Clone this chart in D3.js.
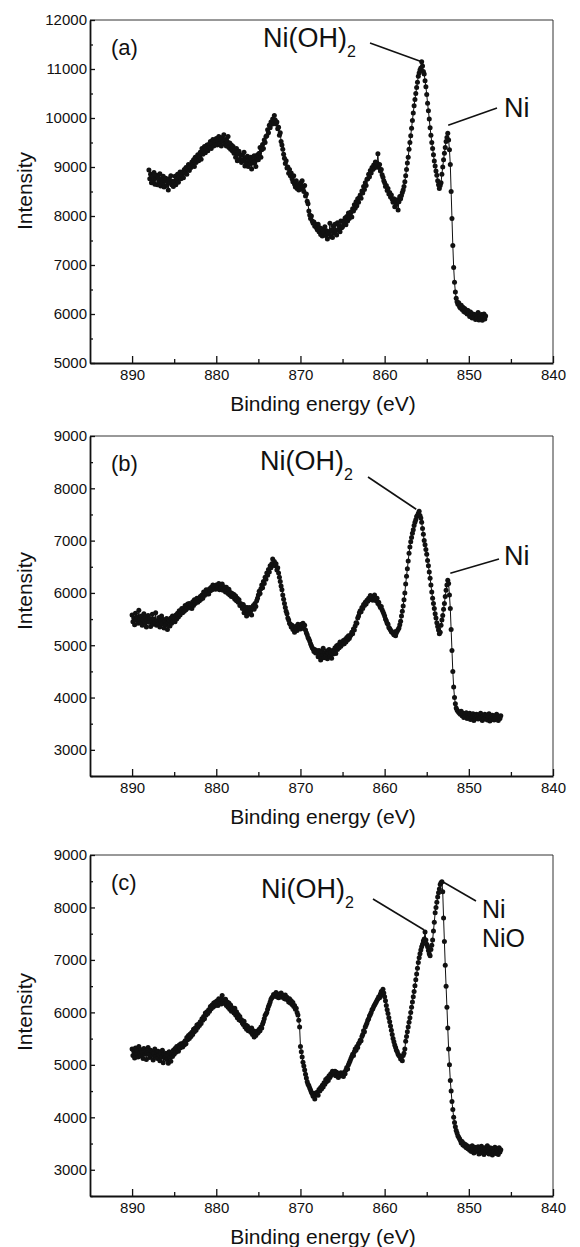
<!DOCTYPE html>
<html>
<head>
<meta charset="utf-8">
<script src="https://cdn.jsdelivr.net/npm/d3@7"></script>
<style>
  body { margin: 0; background: #fff; }
  svg { display: block; }
</style>
</head>
<body>
<svg id="fig" width="580" height="1247"></svg>
<script>
// ---- Ni 2p XPS spectra, intensity in counts, 0.1 eV energy grid ----
const energyStep = 0.1;
const energyStartA = 888.0;
const energyStartB = 890.0;
const energyStartC = 890.0;

// (a) rows of 10 points, each row starting at 888, 887, ... eV
const intensityA = [
  8940, 8760, 8850, 8680, 8810, 8720, 8890, 8650, 8770, 8830,
  8640, 8790, 8700, 8860, 8610, 8750, 8680, 8810, 8590, 8720,
  8770, 8620, 8700, 8530, 8760, 8680, 8820, 8640, 8710, 8600,
  8700, 8810, 8640, 8760, 8850, 8690, 8800, 8900, 8760, 8840,
  8900, 8780, 8950, 8870, 8990, 8850, 8960, 9050, 8930, 9010,
  8990, 9100, 9040, 9150, 9010, 9200, 9090, 9160, 9250, 9130,
  9220, 9300, 9160, 9380, 9260, 9330, 9420, 9290, 9360, 9450,
  9330, 9460, 9400, 9520, 9380, 9480, 9560, 9430, 9510, 9460,
  9580, 9450, 9530, 9620, 9480, 9560, 9430, 9600, 9520, 9660,
  9470, 9560, 9430, 9520, 9620, 9400, 9490, 9360, 9450, 9330,
  9420, 9280, 9350, 9200, 9380, 9130, 9270, 9320, 9160, 9240,
  9090, 9250, 9140, 9300, 9020, 9180, 9080, 9220, 9010, 9150,
  9060, 9200, 8960, 9140, 9080, 9230, 9100, 9010, 9170, 9250,
  9150, 9280, 9400, 9200, 9350, 9460, 9380, 9550, 9500, 9620,
  9640, 9760, 9700, 9850, 9800, 9920, 9870, 9980, 9900, 10050,
  9960, 9880, 9920, 9780, 9810, 9650, 9700, 9520, 9450, 9360,
  9260, 9180, 9070, 9130, 8980, 9000, 8870, 8950, 8820, 8880,
  8760, 8700, 8820, 8650, 8590, 8720, 8560, 8640, 8530, 8600,
  8680, 8550, 8720, 8590, 8500, 8620, 8410, 8450, 8300, 8250,
  8100, 8020, 7950, 8000, 7900, 7850, 7880, 7790, 7830, 7760,
  7720, 7830, 7680, 7760, 7620, 7740, 7590, 7700, 7650, 7780,
  7600, 7700, 7530, 7680, 7640, 7850, 7580, 7710, 7560, 7790,
  7650, 7830, 7700, 7610, 7860, 7720, 7800, 7680, 7900, 7760,
  7780, 7900, 7850, 7960, 7820, 7990, 7900, 8060, 7950, 8010,
  8080, 7980, 8150, 8100, 8230, 8160, 8290, 8210, 8350, 8280,
  8380, 8430, 8360, 8510, 8470, 8600, 8540, 8680, 8620, 8750,
  8760, 8850, 8800, 8930, 8880, 8990, 8950, 9040, 8980, 9100,
  9020, 9080, 9270, 8990, 9050, 8920, 8950, 8840, 8790, 8720,
  8680, 8600, 8620, 8520, 8560, 8450, 8480, 8390, 8430, 8340,
  8280, 8350, 8190, 8310, 8240, 8330, 8120, 8290, 8400, 8350,
  8420, 8480, 8530, 8600, 8700, 8820, 8950, 9080, 9200, 9360,
  9500, 9640, 9790, 9950, 10100, 10250, 10380, 10500, 10620, 10730,
  10850, 10920, 10980, 11020, 11150, 11060, 10950, 10900, 10760, 10640,
  10480, 10300, 10150, 9980, 9800, 9650, 9500, 9380, 9250, 9120,
  9020, 8920, 8830, 8720, 8640, 8560, 8620, 8680, 8850, 9000,
  9150, 9280, 9400, 9520, 9600, 9690, 9550, 9350, 9050, 8500,
  7950, 7400, 6950, 6650, 6450, 6320, 6250, 6200, 6230, 6150,
  6120, 6180, 6090, 6140, 6050, 6110, 6030, 6080, 6000, 6070,
  6010, 5950, 6040, 5980, 5920, 6000, 5940, 5990, 5890, 5970,
  5920, 6030, 5880, 5960, 5910, 5990, 5870, 5940, 6000, 5900,
  5960
];

// (b) rows of 10 points, each row starting at 890, 889, ... eV
const intensityB = [
  5580, 5450, 5520, 5390, 5610, 5480, 5540, 5420, 5670, 5500,
  5430, 5560, 5380, 5490, 5600, 5420, 5530, 5350, 5480, 5570,
  5440, 5510, 5360, 5470, 5590, 5400, 5500, 5430, 5620, 5380,
  5470, 5400, 5530, 5350, 5460, 5560, 5410, 5490, 5330, 5450,
  5390, 5510, 5300, 5440, 5480, 5370, 5520, 5420, 5560, 5460,
  5520, 5450, 5580, 5500, 5610, 5540, 5660, 5580, 5640, 5700,
  5620, 5700, 5650, 5760, 5680, 5730, 5790, 5710, 5800, 5740,
  5780, 5700, 5830, 5760, 5870, 5800, 5840, 5900, 5820, 5880,
  5850, 5930, 5880, 5960, 5900, 6020, 5950, 5990, 6060, 5980,
  6030, 5980, 6080, 6040, 6110, 6060, 6150, 6090, 6130, 6070,
  6150, 6080, 6120, 6180, 6060, 6140, 6100, 6170, 6050, 6120,
  6080, 6020, 6110, 6040, 5990, 6070, 5960, 6010, 5930, 5990,
  5920, 5970, 5880, 5940, 5850, 5900, 5820, 5870, 5760, 5800,
  5760, 5700, 5780, 5620, 5730, 5680, 5560, 5720, 5650, 5600,
  5720, 5660, 5580, 5700, 5760, 5690, 5800, 5740, 5850, 5900,
  5960, 6030, 5990, 6080, 6150, 6100, 6220, 6180, 6300, 6260,
  6380, 6340, 6450, 6400, 6520, 6480, 6560, 6650, 6530, 6600,
  6520, 6560, 6440, 6480, 6380, 6300, 6220, 6130, 6060, 5960,
  5880, 5800, 5720, 5650, 5600, 5520, 5480, 5420, 5400, 5350,
  5380, 5300, 5340, 5250, 5360, 5320, 5280, 5400, 5330, 5370,
  5310, 5400, 5350, 5420, 5320, 5380, 5290, 5240, 5200, 5150,
  5120, 5080, 5030, 4990, 4950, 4930, 4880, 4920, 4850, 4900,
  4860, 4780, 4900, 4820, 4720, 4880, 4800, 4940, 4760, 4850,
  4800, 4890, 4740, 4850, 4920, 4780, 4870, 4750, 4900, 4830,
  4880, 4950, 4840, 4990, 4920, 5010, 4950, 5060, 4980, 5040,
  5020, 5090, 5030, 5110, 5060, 5150, 5100, 5180, 5130, 5170,
  5200, 5250, 5220, 5310, 5290, 5370, 5430, 5420, 5520, 5560,
  5620, 5660, 5640, 5720, 5700, 5780, 5760, 5820, 5790, 5860,
  5840, 5900, 5870, 5950, 5880, 5930, 5860, 5920, 5960, 5880,
  5850, 5900, 5800, 5820, 5760, 5720, 5740, 5680, 5640, 5600,
  5560, 5500, 5470, 5420, 5400, 5340, 5320, 5290, 5260, 5250,
  5230, 5200, 5260, 5180, 5240, 5270, 5300, 5330, 5390, 5460,
  5560, 5650, 5750, 5870, 6000, 6170, 6320, 6460, 6610, 6760,
  6880, 6980, 7060, 7140, 7210, 7290, 7350, 7400, 7460, 7480,
  7520, 7560, 7480, 7430, 7350, 7230, 7120, 7000, 6920, 6830,
  6740, 6620, 6520, 6400, 6280, 6150, 6020, 5900, 5800, 5700,
  5600, 5520, 5430, 5360, 5290, 5220, 5250, 5380, 5480, 5570,
  5690, 5800, 5930, 6050, 6150, 6240, 6180, 5960, 5700, 5300,
  4900, 4500, 4200, 4000, 3880, 3800, 3760, 3740, 3720, 3700,
  3680, 3740, 3650, 3700, 3620, 3690, 3640, 3710, 3600, 3660,
  3630, 3700, 3580, 3660, 3620, 3690, 3560, 3640, 3600, 3680,
  3640, 3590, 3670, 3610, 3700, 3620, 3560, 3650, 3590, 3680,
  3600, 3660, 3570, 3640, 3690, 3550, 3620, 3580, 3660, 3610,
  3570, 3650, 3600, 3680, 3620, 3560, 3640, 3600, 3650
];

// (c) rows of 10 points, each row starting at 890, 889, ... eV
const intensityC = [
  5300, 5180, 5260, 5130, 5320, 5210, 5280, 5150, 5350, 5220,
  5170, 5290, 5240, 5120, 5310, 5200, 5260, 5100, 5230, 5330,
  5200, 5140, 5280, 5180, 5250, 5090, 5220, 5300, 5160, 5240,
  5120, 5260, 5190, 5080, 5230, 5150, 5280, 5040, 5200, 5130,
  5220, 5100, 5180, 5030, 5250, 5140, 5070, 5210, 5160, 5280,
  5200, 5310, 5240, 5350, 5280, 5260, 5380, 5320, 5400, 5350,
  5340, 5420, 5380, 5460, 5400, 5520, 5480, 5560, 5500, 5590,
  5540, 5620, 5580, 5680, 5630, 5700, 5660, 5760, 5710, 5780,
  5750, 5820, 5790, 5880, 5850, 5920, 5880, 5990, 5950, 6010,
  5980, 6050, 6020, 6110, 6070, 6140, 6100, 6180, 6120, 6200,
  6150, 6220, 6130, 6260, 6180, 6250, 6160, 6320, 6200, 6240,
  6170, 6250, 6130, 6200, 6100, 6180, 6060, 6140, 6020, 6090,
  6050, 5990, 6080, 5950, 6010, 5900, 5960, 5860, 5920, 5840,
  5860, 5800, 5770, 5830, 5720, 5760, 5680, 5740, 5650, 5700,
  5680, 5620, 5700, 5580, 5650, 5530, 5620, 5560, 5640, 5600,
  5620, 5680, 5650, 5720, 5700, 5780, 5820, 5880, 5940, 5970,
  6000, 6060, 6110, 6150, 6200, 6250, 6280, 6300, 6340, 6310,
  6330, 6380, 6300, 6350, 6280, 6340, 6310, 6370, 6290, 6330,
  6300, 6260, 6330, 6250, 6290, 6240, 6200, 6260, 6180, 6220,
  6150, 6190, 6110, 6130, 6060, 6080, 6000, 5950, 5850, 5720,
  5350, 5250, 5150, 5050, 4980, 4900, 4820, 4750, 4680, 4630,
  4600, 4560, 4520, 4480, 4450, 4400, 4460, 4350, 4420, 4470,
  4480, 4420, 4530, 4500, 4570, 4540, 4610, 4580, 4660, 4630,
  4720, 4680, 4750, 4700, 4790, 4760, 4830, 4800, 4880, 4850,
  4840, 4880, 4790, 4860, 4820, 4760, 4830, 4790, 4850, 4810,
  4820, 4780, 4860, 4830, 4900, 4950, 4920, 5000, 5040, 5080,
  5120, 5160, 5200, 5180, 5250, 5300, 5280, 5350, 5330, 5400,
  5420, 5470, 5460, 5540, 5580, 5650, 5630, 5720, 5760, 5800,
  5850, 5880, 5930, 5960, 6000, 6050, 6070, 6110, 6140, 6170,
  6200, 6230, 6260, 6300, 6280, 6350, 6400, 6330, 6440, 6370,
  6300, 6220, 6130, 6050, 5980, 5900, 5820, 5740, 5660, 5580,
  5500, 5440, 5380, 5330, 5280, 5250, 5200, 5180, 5160, 5110,
  5150, 5080, 5180, 5220, 5300, 5450, 5540, 5630, 5720, 5810,
  5900, 6000, 6100, 6200, 6300, 6400, 6510, 6620, 6730, 6840,
  6950, 7040, 7120, 7190, 7250, 7300, 7360, 7400, 7530, 7380,
  7300, 7250, 7180, 7120, 7080, 7200, 7280, 7380, 7550, 7720,
  7900, 8000, 8100, 8200, 8280, 8350, 8440, 8470, 8490, 8300,
  7800, 7350, 6900, 6500, 6100, 5700, 5300, 5000, 4700, 4500,
  4300, 4150, 4000, 3900, 3820, 3750, 3700, 3650, 3620, 3590,
  3560, 3510, 3540, 3470, 3500, 3450, 3480, 3420, 3460, 3400,
  3440, 3370, 3420, 3350, 3460, 3390, 3320, 3430, 3360, 3410,
  3350, 3440, 3300, 3400, 3370, 3450, 3320, 3390, 3290, 3420,
  3380, 3330, 3460, 3360, 3300, 3420, 3340, 3410, 3280, 3390,
  3350, 3430, 3310, 3400, 3360, 3290, 3420, 3340, 3380
];

// axis tick values
const xTickValues = [890, 880, 870, 860, 850, 840];
const xMinorTickValues = [885, 875, 865, 855, 845];
const yTickValuesA = [5000, 6000, 7000, 8000, 9000, 10000, 11000, 12000];
const yMinorTickValuesA = [5500, 6500, 7500, 8500, 9500, 10500, 11500];
const yTickValuesBC = [3000, 4000, 5000, 6000, 7000, 8000, 9000];
const yMinorTickValuesBC = [2500, 3500, 4500, 5500, 6500, 7500, 8500];

const panelLabels = ["(a)", "(b)", "(c)"];
const xTitle = "Binding energy (eV)";
const yTitle = "Intensity";

// ---- drawing ----
const FONT = "'Liberation Sans', Arial, Helvetica, sans-serif";
const INK = "#111";
const svg = d3.select("#fig");
const plotLeft = 90, plotRight = 553;

function toPoints(values, e0) {
  return values.map((v, i) => ({ e: +(e0 - i * energyStep).toFixed(2), v }));
}

const panels = [
  {
    label: panelLabels[0], data: toPoints(intensityA, energyStartA),
    yDomain: [5000, 12000], top: 20, bottom: 363,
    yTicks: yTickValuesA, yMinor: yMinorTickValuesA, yTitleCenter: 191,
    notes: [
      { lines: ["Ni(OH)"], sub: "2", size: 27, tx: 263, ty: 47, from: [370, 43], to: { e: 855.6, v: 11150 } },
      { lines: ["Ni"], size: 27, tx: 504, ty: 117, from: [497, 108], to: { e: 852.45, v: 9850 } }
    ]
  },
  {
    label: panelLabels[1], data: toPoints(intensityB, energyStartB),
    yDomain: [2500, 9000], top: 436, bottom: 776,
    yTicks: yTickValuesBC, yMinor: yMinorTickValuesBC, yTitleCenter: 591,
    notes: [
      { lines: ["Ni(OH)"], sub: "2", size: 27, tx: 260, ty: 470, from: [368, 477], to: { e: 856.25, v: 7600 } },
      { lines: ["Ni"], size: 27, tx: 504, ty: 565, from: [499, 559], to: { e: 852.2, v: 6375 } }
    ]
  },
  {
    label: panelLabels[2], data: toPoints(intensityC, energyStartC),
    yDomain: [2500, 9000], top: 855, bottom: 1196,
    yTicks: yTickValuesBC, yMinor: yMinorTickValuesBC, yTitleCenter: 1012,
    notes: [
      { lines: ["Ni(OH)"], sub: "2", size: 27, tx: 261, ty: 898, from: [373, 899], to: { e: 855.3, v: 7570 } },
      { lines: ["Ni", "NiO"], size: 25, lead: 29, tx: 482, ty: 918, from: [476, 901], to: { e: 853.0, v: 8480 } }
    ]
  }
];

panels.forEach(p => {
  const x = d3.scaleLinear().domain([895, 840]).range([plotLeft, plotRight]);
  const y = d3.scaleLinear().domain(p.yDomain).range([p.bottom, p.top]);
  const g = svg.append("g");

  // thin top and right frame
  g.append("path")
    .attr("d", `M${plotLeft},${p.top}H${plotRight}V${p.bottom}`)
    .attr("fill", "none").attr("stroke", "#333").attr("stroke-width", 1);

  // bottom axis with inward ticks
  g.append("g").attr("transform", `translate(0,${p.bottom})`)
    .call(d3.axisBottom(x).tickValues(xTickValues).tickFormat(d3.format("d"))
      .tickSizeInner(-7).tickSizeOuter(0).tickPadding(6));
  g.append("g").attr("transform", `translate(0,${p.bottom})`)
    .call(d3.axisBottom(x).tickValues(xMinorTickValues).tickFormat("")
      .tickSizeInner(-4).tickSizeOuter(0))
    .select(".domain").remove();

  // left axis with inward ticks
  g.append("g").attr("transform", `translate(${plotLeft},0)`)
    .call(d3.axisLeft(y).tickValues(p.yTicks).tickFormat(d3.format("d"))
      .tickSizeInner(-5).tickSizeOuter(0).tickPadding(3));
  g.append("g").attr("transform", `translate(${plotLeft},0)`)
    .call(d3.axisLeft(y).tickValues(p.yMinor).tickFormat("")
      .tickSizeInner(-3).tickSizeOuter(0))
    .select(".domain").remove();

  g.selectAll(".domain").attr("stroke", INK).attr("stroke-width", 1.8);
  g.selectAll(".tick line").attr("stroke", INK).attr("stroke-width", 1.3);
  g.selectAll(".tick text").attr("fill", INK)
    .style("font-family", FONT).style("font-size", "15px");

  // spectrum: thin connecting line plus dots
  g.append("path").datum(p.data)
    .attr("fill", "none").attr("stroke", INK).attr("stroke-width", 1)
    .attr("d", d3.line().x(d => x(d.e)).y(d => y(d.v)));
  g.append("g").selectAll("circle").data(p.data).join("circle")
    .attr("cx", d => x(d.e)).attr("cy", d => y(d.v)).attr("r", 2.5)
    .attr("fill", INK);

  // axis titles
  g.append("text").attr("x", 323).attr("y", p.bottom + 48)
    .attr("text-anchor", "middle").attr("fill", INK)
    .style("font-family", FONT).style("font-size", "21px").text(xTitle);
  g.append("text")
    .attr("transform", `translate(32,${p.yTitleCenter}) rotate(-90)`)
    .attr("text-anchor", "middle").attr("fill", INK)
    .style("font-family", FONT).style("font-size", "21px").text(yTitle);

  // panel letter
  g.append("text").attr("x", 111).attr("y", p.top + 35).attr("fill", INK)
    .style("font-family", FONT).style("font-size", "22px").text(p.label);

  // peak assignments with leader lines
  p.notes.forEach(n => {
    const t = g.append("text").attr("x", n.tx).attr("y", n.ty).attr("fill", INK)
      .style("font-family", FONT).style("font-size", n.size + "px");
    n.lines.forEach((line, i) => {
      t.append("tspan").attr("x", n.tx).attr("dy", i === 0 ? 0 : n.lead).text(line);
    });
    if (n.sub) {
      t.append("tspan").attr("dy", 10).style("font-size", "16px").text(n.sub);
    }
    if (n.from && n.to) {
      g.append("line")
        .attr("x1", n.from[0]).attr("y1", n.from[1])
        .attr("x2", x(n.to.e)).attr("y2", y(n.to.v))
        .attr("stroke", INK).attr("stroke-width", 1.6);
    }
  });
});
</script>
</body>
</html>
